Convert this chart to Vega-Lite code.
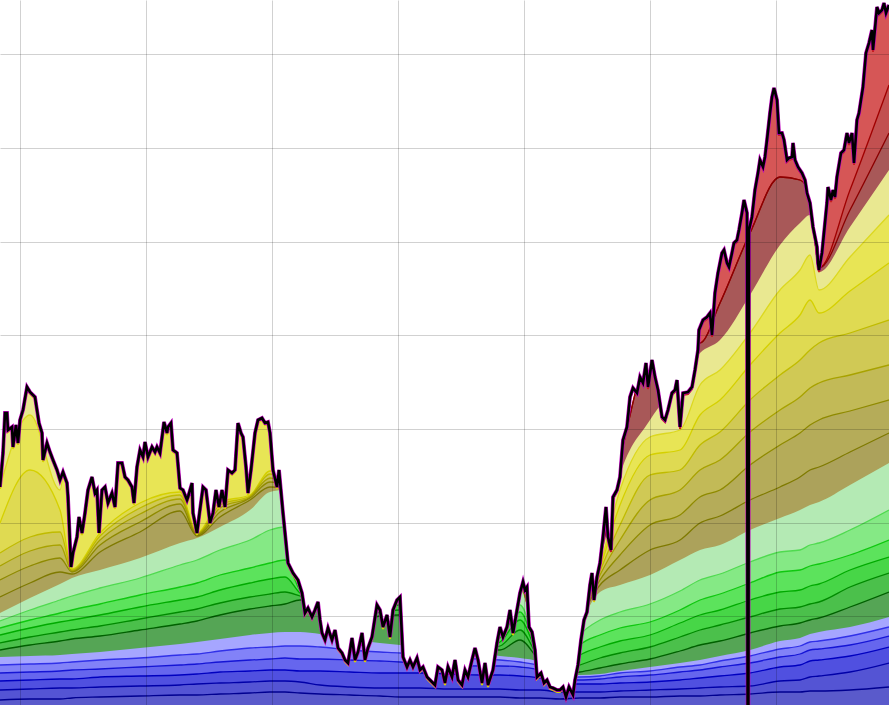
{
  "$schema": "https://vega.github.io/schema/vega-lite/v6.json",
  "width": 889,
  "height": 705,
  "autosize": "none",
  "padding": 0,
  "background": "white",
  "config": {
    "view": {"stroke": null},
    "axis": {"labels": false, "ticks": false, "domain": false, "titleOpacity": 0}
  },
  "datasets": {
    "levels": [
      {"x":0,"B1":5,"B2":15,"B3":24,"B4":32,"B5":40,"B6":48,"G1":55,"G2":62,"G3":70,"G4":77,"G5":84,"G6":92,"Y1":108,"Y2":125,"Y3":139,"Y4":152,"Y5":182,"Y6":218,"Y7":335,"R1":335,"R2":335,"R3":335},
      {"x":30,"B1":6,"B2":16,"B3":25,"B4":33,"B5":41,"B6":49,"G1":60,"G2":68,"G3":77,"G4":85,"G5":95,"G6":107,"Y1":122,"Y2":139,"Y3":154,"Y4":168,"Y5":235,"Y6":290,"Y7":335,"R1":335,"R2":335,"R3":335},
      {"x":60,"B1":6,"B2":17,"B3":26,"B4":34,"B5":42,"B6":50,"G1":64,"G2":73,"G3":83,"G4":92,"G5":105,"G6":121,"Y1":133,"Y2":147,"Y3":160,"Y4":173,"Y5":195,"Y6":215,"Y7":335,"R1":335,"R2":335,"R3":335},
      {"x":72,"B1":7,"B2":17,"B3":26,"B4":35,"B5":43,"B6":51,"G1":66,"G2":75,"G3":85,"G4":95,"G5":109,"G6":127,"Y1":131,"Y2":133,"Y3":134,"Y4":135,"Y5":136,"Y6":335,"Y7":335,"R1":335,"R2":335,"R3":335},
      {"x":100,"B1":8,"B2":18,"B3":28,"B4":36,"B5":45,"B6":53,"G1":69,"G2":79,"G3":90,"G4":101,"G5":117,"G6":135,"Y1":153,"Y2":160,"Y3":165,"Y4":169,"Y5":172,"Y6":335,"Y7":335,"R1":335,"R2":335,"R3":335},
      {"x":140,"B1":9,"B2":19,"B3":29,"B4":38,"B5":47,"B6":57,"G1":75,"G2":86,"G3":98,"G4":110,"G5":127,"G6":147,"Y1":173,"Y2":183,"Y3":191,"Y4":197,"Y5":202,"Y6":335,"Y7":335,"R1":335,"R2":335,"R3":335},
      {"x":180,"B1":10,"B2":20,"B3":30,"B4":40,"B5":50,"B6":61,"G1":81,"G2":93,"G3":105,"G4":118,"G5":140,"G6":162,"Y1":194,"Y2":201,"Y3":206,"Y4":210,"Y5":213,"Y6":335,"Y7":335,"R1":335,"R2":335,"R3":335},
      {"x":197,"B1":10,"B2":21,"B3":31,"B4":41,"B5":51,"B6":63,"G1":84,"G2":96,"G3":108,"G4":122,"G5":145,"G6":167,"Y1":169,"Y2":170,"Y3":171,"Y4":171,"Y5":172,"Y6":335,"Y7":335,"R1":335,"R2":335,"R3":335},
      {"x":220,"B1":11,"B2":22,"B3":33,"B4":43,"B5":54,"B6":66,"G1":90,"G2":102,"G3":115,"G4":130,"G5":155,"G6":178,"Y1":188,"Y2":193,"Y3":197,"Y4":200,"Y5":203,"Y6":335,"Y7":335,"R1":335,"R2":335,"R3":335},
      {"x":250,"B1":12,"B2":23,"B3":34,"B4":45,"B5":57,"B6":70,"G1":96,"G2":108,"G3":122,"G4":137,"G5":165,"G6":195,"Y1":205,"Y2":207,"Y3":208,"Y4":209,"Y5":210,"Y6":335,"Y7":335,"R1":335,"R2":335,"R3":335},
      {"x":270,"B1":13,"B2":24,"B3":35,"B4":46,"B5":58,"B6":72,"G1":99,"G2":111,"G3":126,"G4":142,"G5":175,"G6":213,"Y1":218,"Y2":223,"Y3":227,"Y4":231,"Y5":234,"Y6":335,"Y7":335,"R1":335,"R2":335,"R3":335},
      {"x":285,"B1":13,"B2":24,"B3":35,"B4":47,"B5":59,"B6":73,"G1":101,"G2":113,"G3":128,"G4":145,"G5":178,"G6":215,"Y1":217,"Y2":219,"Y3":221,"Y4":223,"Y5":225,"Y6":335,"Y7":335,"R1":335,"R2":335,"R3":335},
      {"x":300,"B1":12,"B2":23,"B3":34,"B4":46,"B5":59,"B6":73,"G1":105,"G2":109,"G3":112,"G4":115,"G5":117,"G6":125,"Y1":127,"Y2":128,"Y3":129,"Y4":130,"Y5":131,"Y6":132,"Y7":335,"R1":335,"R2":335,"R3":335},
      {"x":320,"B1":11,"B2":20,"B3":34,"B4":46,"B5":58,"B6":71,"G1":100,"G2":102,"G3":104,"G4":106,"G5":108,"G6":110,"Y1":115,"Y2":115,"Y3":115,"Y4":115,"Y5":115,"Y6":115,"Y7":335,"R1":335,"R2":335,"R3":335},
      {"x":350,"B1":10,"B2":18,"B3":33,"B4":45,"B5":55,"B6":66,"G1":77,"G2":78,"G3":79,"G4":80,"G5":81,"G6":82,"Y1":85,"Y2":85,"Y3":85,"Y4":85,"Y5":85,"Y6":85,"Y7":335,"R1":335,"R2":335,"R3":335},
      {"x":380,"B1":9,"B2":17,"B3":32,"B4":44,"B5":53,"B6":62,"G1":89,"G2":93,"G3":97,"G4":101,"G5":104,"G6":107,"Y1":109,"Y2":109,"Y3":109,"Y4":109,"Y5":109,"Y6":109,"Y7":335,"R1":335,"R2":335,"R3":335},
      {"x":400,"B1":8,"B2":17,"B3":32,"B4":43,"B5":52,"B6":60,"G1":90,"G2":95,"G3":100,"G4":105,"G5":109,"G6":113,"Y1":115,"Y2":115,"Y3":115,"Y4":115,"Y5":115,"Y6":115,"Y7":335,"R1":335,"R2":335,"R3":335},
      {"x":420,"B1":8,"B2":17,"B3":32,"B4":41,"B5":49,"B6":57,"G1":61,"G2":62,"G3":63,"G4":64,"G5":65,"G6":66,"Y1":67,"Y2":67,"Y3":67,"Y4":67,"Y5":67,"Y6":67,"Y7":335,"R1":335,"R2":335,"R3":335},
      {"x":450,"B1":8,"B2":16,"B3":31,"B4":40,"B5":47,"B6":54,"G1":56,"G2":57,"G3":58,"G4":59,"G5":60,"G6":61,"Y1":62,"Y2":62,"Y3":62,"Y4":62,"Y5":62,"Y6":62,"Y7":335,"R1":335,"R2":335,"R3":335},
      {"x":480,"B1":8,"B2":16,"B3":30,"B4":39,"B5":46,"B6":52,"G1":55,"G2":56,"G3":57,"G4":58,"G5":59,"G6":60,"Y1":61,"Y2":61,"Y3":61,"Y4":61,"Y5":61,"Y6":61,"Y7":335,"R1":335,"R2":335,"R3":335},
      {"x":500,"B1":8,"B2":16,"B3":30,"B4":39,"B5":45,"B6":49,"G1":55,"G2":59,"G3":63,"G4":67,"G5":71,"G6":85,"Y1":90,"Y2":90,"Y3":90,"Y4":90,"Y5":90,"Y6":90,"Y7":335,"R1":335,"R2":335,"R3":335},
      {"x":520,"B1":7,"B2":15,"B3":29,"B4":38,"B5":43,"B6":47,"G1":65,"G2":75,"G3":85,"G4":93,"G5":100,"G6":115,"Y1":120,"Y2":120,"Y3":120,"Y4":120,"Y5":120,"Y6":120,"Y7":335,"R1":335,"R2":335,"R3":335},
      {"x":540,"B1":7,"B2":15,"B3":27,"B4":35,"B5":39,"B6":43,"G1":44,"G2":45,"G3":46,"G4":47,"G5":48,"G6":49,"Y1":50,"Y2":50,"Y3":50,"Y4":50,"Y5":50,"Y6":50,"Y7":335,"R1":335,"R2":335,"R3":335},
      {"x":560,"B1":6,"B2":13,"B3":21,"B4":25,"B5":28,"B6":30,"G1":31,"G2":32,"G3":33,"G4":34,"G5":35,"G6":36,"Y1":37,"Y2":37,"Y3":37,"Y4":37,"Y5":37,"Y6":37,"Y7":335,"R1":335,"R2":335,"R3":335},
      {"x":580,"B1":7,"B2":13,"B3":21,"B4":25,"B5":28,"B6":30,"G1":33,"G2":40,"G3":50,"G4":60,"G5":70,"G6":80,"Y1":85,"Y2":85,"Y3":85,"Y4":85,"Y5":85,"Y6":85,"Y7":105,"R1":105,"R2":105,"R3":105},
      {"x":600,"B1":7,"B2":13,"B3":21,"B4":26,"B5":29,"B6":31,"G1":37,"G2":47,"G3":58,"G4":70,"G5":85,"G6":113,"Y1":120,"Y2":125,"Y3":130,"Y4":134,"Y5":137,"Y6":139,"Y7":145,"R1":150,"R2":150,"R3":150},
      {"x":620,"B1":8,"B2":14,"B3":22,"B4":28,"B5":32,"B6":34,"G1":41,"G2":52,"G3":64,"G4":77,"G5":93,"G6":120,"Y1":135,"Y2":150,"Y3":165,"Y4":180,"Y5":200,"Y6":215,"Y7":230,"R1":245,"R2":245,"R3":245},
      {"x":650,"B1":8,"B2":15,"B3":23,"B4":30,"B5":34,"B6":38,"G1":46,"G2":58,"G3":70,"G4":83,"G5":101,"G6":130,"Y1":155,"Y2":180,"Y3":205,"Y4":230,"Y5":250,"Y6":268,"Y7":285,"R1":365,"R2":365,"R3":365},
      {"x":680,"B1":9,"B2":16,"B3":25,"B4":33,"B5":38,"B6":42,"G1":54,"G2":68,"G3":82,"G4":95,"G5":114,"G6":145,"Y1":165,"Y2":190,"Y3":215,"Y4":235,"Y5":255,"Y6":275,"Y7":325,"R1":405,"R2":405,"R3":405},
      {"x":700,"B1":9,"B2":17,"B3":27,"B4":35,"B5":40,"B6":45,"G1":60,"G2":75,"G3":90,"G4":105,"G5":125,"G6":155,"Y1":182,"Y2":208,"Y3":235,"Y4":260,"Y5":290,"Y6":320,"Y7":352,"R1":362,"R2":362,"R3":705},
      {"x":720,"B1":10,"B2":18,"B3":29,"B4":38,"B5":44,"B6":49,"G1":64,"G2":80,"G3":95,"G4":111,"G5":131,"G6":160,"Y1":189,"Y2":215,"Y3":245,"Y4":273,"Y5":305,"Y6":335,"Y7":365,"R1":402,"R2":402,"R3":705},
      {"x":750,"B1":11,"B2":19,"B3":32,"B4":42,"B5":49,"B6":55,"G1":72,"G2":88,"G3":105,"G4":122,"G5":143,"G6":175,"Y1":205,"Y2":240,"Y3":273,"Y4":305,"Y5":340,"Y6":372,"Y7":410,"R1":472,"R2":472,"R3":705},
      {"x":780,"B1":13,"B2":24,"B3":38,"B4":48,"B5":56,"B6":64,"G1":79,"G2":96,"G3":113,"G4":133,"G5":153,"G6":187,"Y1":218,"Y2":260,"Y3":295,"Y4":330,"Y5":372,"Y6":415,"Y7":460,"R1":528,"R2":528,"R3":705},
      {"x":800,"B1":13,"B2":25,"B3":40,"B4":51,"B5":59,"B6":67,"G1":82,"G2":98,"G3":115,"G4":135,"G5":155,"G6":195,"Y1":228,"Y2":272,"Y3":308,"Y4":345,"Y5":390,"Y6":435,"Y7":482,"R1":525,"R2":525,"R3":705},
      {"x":810,"B1":14,"B2":28,"B3":44,"B4":55,"B5":63,"B6":71,"G1":85,"G2":101,"G3":119,"G4":139,"G5":160,"G6":200,"Y1":235,"Y2":280,"Y3":317,"Y4":355,"Y5":405,"Y6":450,"Y7":490,"R1":510,"R2":510,"R3":705},
      {"x":819,"B1":14,"B2":29,"B3":45,"B4":56,"B5":64,"B6":73,"G1":87,"G2":103,"G3":121,"G4":141,"G5":162,"G6":203,"Y1":238,"Y2":285,"Y3":322,"Y4":362,"Y5":392,"Y6":415,"Y7":433,"R1":437,"R2":437,"R3":705},
      {"x":850,"B1":15,"B2":33,"B3":49,"B4":60,"B5":69,"B6":78,"G1":98,"G2":118,"G3":135,"G4":150,"G5":175,"G6":220,"Y1":253,"Y2":294,"Y3":330,"Y4":372,"Y5":414,"Y6":448,"Y7":478,"R1":495,"R2":515,"R3":705},
      {"x":889,"B1":18,"B2":42,"B3":58,"B4":69,"B5":78,"B6":88,"G1":113,"G2":132,"G3":148,"G4":165,"G5":195,"G6":242,"Y1":272,"Y2":305,"Y3":340,"Y4":385,"Y5":442,"Y6":490,"Y7":535,"R1":572,"R2":620,"R3":705}
    ],
    "price": [
      {"x":0,"v":218},{"x":3,"v":252},{"x":5,"v":292},{"x":7,"v":292},{"x":8,"v":275},{"x":12,"v":278},{"x":13,"v":258},{"x":16,"v":280},{"x":18,"v":262},{"x":20,"v":285},
      {"x":23,"v":295},{"x":27,"v":318},{"x":30,"v":313},{"x":35,"v":308},{"x":37,"v":295},{"x":39,"v":282},{"x":42,"v":272},{"x":43,"v":245},{"x":47,"v":262},{"x":50,"v":253},
      {"x":53,"v":245},{"x":57,"v":235},{"x":60,"v":225},{"x":63,"v":233},{"x":67,"v":222},{"x":68,"v":208},{"x":71,"v":138},{"x":73,"v":152},{"x":77,"v":168},{"x":79,"v":188},
      {"x":82,"v":172},{"x":85,"v":192},{"x":88,"v":215},{"x":92,"v":228},{"x":95,"v":212},{"x":97,"v":215},{"x":99,"v":172},{"x":102,"v":215},{"x":105,"v":218},{"x":108,"v":202},
      {"x":112,"v":212},{"x":115,"v":198},{"x":118,"v":242},{"x":122,"v":242},{"x":125,"v":228},{"x":128,"v":225},{"x":132,"v":218},{"x":134,"v":202},{"x":137,"v":238},{"x":140,"v":255},
      {"x":143,"v":248},{"x":145,"v":263},{"x":148,"v":248},{"x":152,"v":258},{"x":155,"v":253},{"x":157,"v":258},{"x":160,"v":252},{"x":164,"v":283},{"x":167,"v":272},{"x":168,"v":278},
      {"x":171,"v":282},{"x":173,"v":255},{"x":177,"v":252},{"x":180,"v":217},{"x":183,"v":215},{"x":187,"v":205},{"x":188,"v":208},{"x":192,"v":222},{"x":193,"v":192},{"x":197,"v":172},
      {"x":199,"v":188},{"x":203,"v":218},{"x":206,"v":215},{"x":210,"v":182},{"x":213,"v":192},{"x":216,"v":215},{"x":219,"v":198},{"x":222,"v":215},{"x":225,"v":198},{"x":228,"v":235},
      {"x":232,"v":232},{"x":235,"v":235},{"x":238,"v":282},{"x":241,"v":272},{"x":243,"v":268},{"x":246,"v":238},{"x":248,"v":212},{"x":251,"v":235},{"x":255,"v":272},{"x":258,"v":285},
      {"x":262,"v":287},{"x":265,"v":282},{"x":268,"v":283},{"x":270,"v":272},{"x":273,"v":235},{"x":277,"v":218},{"x":279,"v":235},{"x":283,"v":192},{"x":288,"v":142},{"x":293,"v":132},
      {"x":298,"v":125},{"x":302,"v":112},{"x":305,"v":92},{"x":308,"v":97},{"x":312,"v":88},{"x":315,"v":95},{"x":318,"v":103},{"x":320,"v":85},{"x":322,"v":72},{"x":325,"v":65},
      {"x":328,"v":77},{"x":332,"v":65},{"x":335,"v":75},{"x":338,"v":57},{"x":342,"v":52},{"x":345,"v":45},{"x":348,"v":42},{"x":352,"v":67},{"x":355,"v":45},{"x":358,"v":53},
      {"x":362,"v":72},{"x":365,"v":45},{"x":368,"v":57},{"x":372,"v":68},{"x":377,"v":100},{"x":380,"v":95},{"x":383,"v":78},{"x":387,"v":90},{"x":390,"v":68},{"x":393,"v":95},
      {"x":397,"v":105},{"x":400,"v":108},{"x":403,"v":48},{"x":407,"v":38},{"x":410,"v":45},{"x":413,"v":38},{"x":417,"v":47},{"x":420,"v":35},{"x":423,"v":38},{"x":427,"v":28},
      {"x":430,"v":25},{"x":435,"v":20},{"x":438,"v":38},{"x":442,"v":35},{"x":445,"v":22},{"x":448,"v":38},{"x":452,"v":28},{"x":455,"v":45},{"x":458,"v":25},{"x":462,"v":20},
      {"x":465,"v":35},{"x":468,"v":28},{"x":472,"v":45},{"x":475,"v":57},{"x":478,"v":45},{"x":482,"v":22},{"x":485,"v":42},{"x":488,"v":20},{"x":493,"v":35},{"x":497,"v":62},
      {"x":500,"v":78},{"x":503,"v":68},{"x":507,"v":78},{"x":510,"v":95},{"x":513,"v":72},{"x":517,"v":95},{"x":520,"v":112},{"x":523,"v":123},{"x":525,"v":115},{"x":527,"v":118},
      {"x":529,"v":78},{"x":532,"v":73},{"x":535,"v":55},{"x":537,"v":28},{"x":541,"v":32},{"x":544,"v":22},{"x":547,"v":25},{"x":550,"v":18},{"x":553,"v":17},{"x":557,"v":15},
      {"x":560,"v":15},{"x":563,"v":18},{"x":566,"v":8},{"x":569,"v":18},{"x":573,"v":10},{"x":575,"v":25},{"x":578,"v":40},{"x":581,"v":65},{"x":584,"v":85},{"x":587,"v":93},
      {"x":590,"v":120},{"x":592,"v":132},{"x":594,"v":105},{"x":597,"v":128},{"x":600,"v":142},{"x":603,"v":168},{"x":606,"v":198},{"x":608,"v":168},{"x":611,"v":155},{"x":613,"v":208},
      {"x":617,"v":215},{"x":620,"v":228},{"x":623,"v":265},{"x":627,"v":278},{"x":630,"v":308},{"x":633,"v":317},{"x":637,"v":312},{"x":640,"v":328},{"x":643,"v":322},{"x":646,"v":342},
      {"x":648,"v":318},{"x":652,"v":345},{"x":655,"v":328},{"x":658,"v":315},{"x":662,"v":288},{"x":665,"v":285},{"x":668,"v":295},{"x":672,"v":312},{"x":675,"v":315},{"x":677,"v":325},
      {"x":680,"v":278},{"x":683,"v":312},{"x":688,"v":313},{"x":692,"v":318},{"x":695,"v":335},{"x":698,"v":355},{"x":699,"v":375},{"x":703,"v":385},{"x":707,"v":388},{"x":710,"v":392},
      {"x":712,"v":370},{"x":715,"v":412},{"x":718,"v":432},{"x":722,"v":452},{"x":724,"v":455},{"x":727,"v":442},{"x":729,"v":438},{"x":732,"v":452},{"x":734,"v":462},{"x":737,"v":465},
      {"x":739,"v":475},{"x":742,"v":492},{"x":744,"v":505},{"x":747,"v":492},{"x":747.6,"v":0},{"x":748.4,"v":0},{"x":749,"v":475},{"x":752,"v":488},{"x":755,"v":515},{"x":758,"v":532},
      {"x":760,"v":545},{"x":763,"v":538},{"x":765,"v":548},{"x":767,"v":565},{"x":770,"v":592},{"x":772,"v":608},{"x":774,"v":617},{"x":777,"v":605},{"x":779,"v":572},{"x":782,"v":572},
      {"x":784,"v":565},{"x":787,"v":545},{"x":789,"v":547},{"x":792,"v":548},{"x":793,"v":562},{"x":795,"v":545},{"x":798,"v":538},{"x":802,"v":532},{"x":805,"v":525},{"x":807,"v":512},
      {"x":810,"v":502},{"x":813,"v":478},{"x":817,"v":458},{"x":818,"v":442},{"x":819,"v":435},{"x":822,"v":452},{"x":824,"v":472},{"x":827,"v":502},{"x":828,"v":518},{"x":831,"v":505},
      {"x":833,"v":515},{"x":835,"v":508},{"x":837,"v":528},{"x":841,"v":552},{"x":844,"v":555},{"x":847,"v":572},{"x":849,"v":562},{"x":852,"v":572},{"x":854,"v":542},{"x":857,"v":585},
      {"x":859,"v":592},{"x":863,"v":618},{"x":866,"v":652},{"x":869,"v":662},{"x":872,"v":675},{"x":873,"v":655},{"x":877,"v":698},{"x":879,"v":692},{"x":882,"v":695},{"x":884,"v":702},
      {"x":886,"v":692},{"x":889,"v":700}
    ]
  },
  "layer": [
    {
      "data": {"name": "levels"},
      "transform": [
        {"fold": ["R3","R2","R1","Y7","Y6","Y5","Y4","Y3","Y2","Y1","G6","G5","G4","G3","G2","G1","B6","B5","B4","B3","B2","B1"], "as": ["band", "v"]}
      ],
      "mark": {"type": "area", "interpolate": "monotone"},
      "encoding": {
        "x": {
          "field": "x", "type": "quantitative", "title": null,
          "scale": {"domain": [0, 889], "nice": false, "zero": false},
          "axis": {"values": [20.3, 146.3, 272.3, 398.3, 524.3, 650.3, 776.3], "grid": true, "gridColor": "#000000", "gridOpacity": 0.18, "zindex": 1}
        },
        "y": {
          "field": "v", "type": "quantitative", "stack": null, "title": null,
          "scale": {"domain": [0, 705], "nice": false},
          "axis": {"values": [88.7, 182.3, 276, 369.7, 463.3, 557, 650.7], "grid": true, "gridColor": "#000000", "gridOpacity": 0.18, "zindex": 1}
        },
        "fill": {
          "field": "band", "type": "nominal", "legend": null,
          "scale": {
            "domain": ["R3","R2","R1","Y7","Y6","Y5","Y4","Y3","Y2","Y1","G6","G5","G4","G3","G2","G1","B6","B5","B4","B3","B2","B1"],
            "range": ["#d65656","#c25050","#a85858","#e9e891","#e8e555","#dfda52","#d0c955","#c2ba57","#b5ac59","#aca25b","#b4eab4","#85e985","#5ce35c","#47d647","#4bc04b","#55a555","#a6a6ff","#8282f8","#6666ee","#5050e0","#5454d4","#5a5acb"]
          }
        }
      }
    },
    {
      "data": {"name": "levels"},
      "transform": [
        {"fold": ["R3","R2","R1","Y7","Y6","Y5","Y4","Y3","Y2","Y1","G6","G5","G4","G3","G2","G1","B6","B5","B4","B3","B2","B1"], "as": ["band", "v"]}
      ],
      "mark": {"type": "line", "strokeWidth": 1.3, "interpolate": "monotone"},
      "encoding": {
        "x": {"field": "x", "type": "quantitative", "title": null},
        "y": {"field": "v", "type": "quantitative", "title": null},
        "stroke": {
          "field": "band", "type": "nominal", "legend": null,
          "scale": {
            "domain": ["R3","R2","R1","Y7","Y6","Y5","Y4","Y3","Y2","Y1","G6","G5","G4","G3","G2","G1","B6","B5","B4","B3","B2","B1"],
            "range": ["transparent","#a00000","#8b0000","transparent","#dcd820","#d5d000","#c0bb00","#a8a200","#8f8a00","#7f7a00","transparent","#50da50","#10c810","#00aa00","#008a00","#006000","transparent","#3030e8","#1515d5","#0000c0","#0000a8","#000090"]
          }
        }
      }
    },
    {
      "data": {"name": "price"},
      "mark": {"type": "area", "color": "#ffffff"},
      "encoding": {
        "x": {"field": "x", "type": "quantitative", "title": null},
        "y": {"field": "v", "type": "quantitative", "title": null},
        "y2": {"datum": 705}
      }
    },
    {
      "data": {"name": "price"},
      "transform": [{"filter": "datum.x < 598"}],
      "mark": {"type": "line", "color": "#d8d400", "strokeWidth": 2, "yOffset": 2},
      "encoding": {
        "x": {"field": "x", "type": "quantitative", "title": null},
        "y": {"field": "v", "type": "quantitative", "title": null}
      }
    },
    {
      "data": {"name": "price"},
      "transform": [{"filter": "datum.x >= 597"}],
      "mark": {"type": "line", "color": "#c81e1e", "strokeWidth": 2, "yOffset": 2},
      "encoding": {
        "x": {"field": "x", "type": "quantitative", "title": null},
        "y": {"field": "v", "type": "quantitative", "title": null}
      }
    },
    {
      "data": {"name": "price"},
      "mark": {"type": "line", "color": "#c000c0", "strokeWidth": 3.8},
      "encoding": {
        "x": {"field": "x", "type": "quantitative", "title": null},
        "y": {"field": "v", "type": "quantitative", "title": null}
      }
    },
    {
      "data": {"name": "price"},
      "mark": {"type": "line", "color": "#000000", "strokeWidth": 2.6},
      "encoding": {
        "x": {"field": "x", "type": "quantitative", "title": null},
        "y": {"field": "v", "type": "quantitative", "title": null}
      }
    }
  ]
}
